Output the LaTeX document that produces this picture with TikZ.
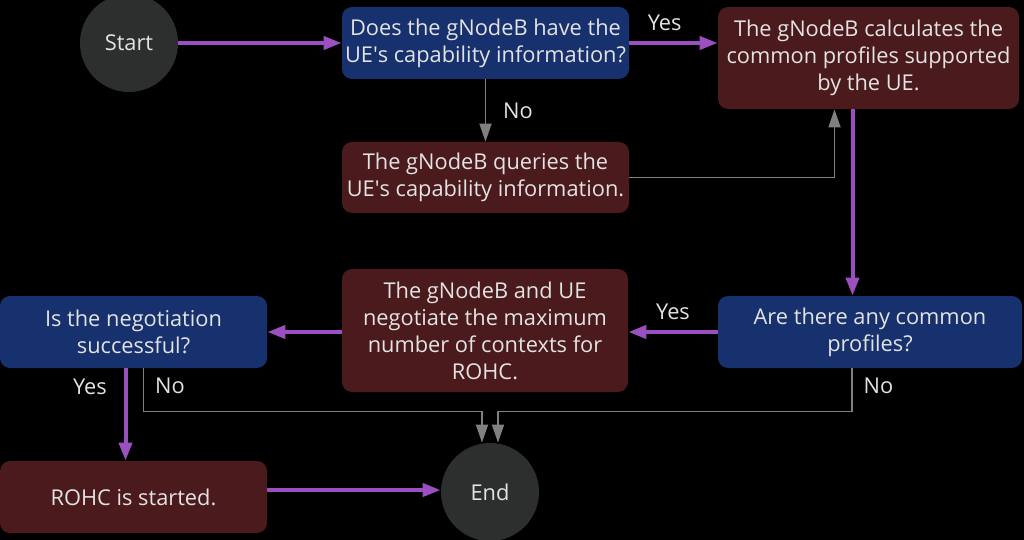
\documentclass[tikz,border=0pt]{standalone}
\usepackage{fontspec}
\setmainfont{Open Sans}
\usetikzlibrary{arrows.meta,calc,positioning}
\definecolor{qblue}{HTML}{17306E}
\definecolor{actred}{HTML}{4A1A1C}
\definecolor{termgrey}{HTML}{2D2F2E}
\definecolor{flowpurple}{HTML}{9B4FC0}
\definecolor{nogrey}{HTML}{808080}
\definecolor{labelgrey}{HTML}{E3E3E3}

\begin{document}
\begin{tikzpicture}[x=0.5pt,y=-0.5pt,font=\fontsize{10.9}{13.5}\selectfont]
\clip (0,0) rectangle (1024,540);
\fill[black] (0,0) rectangle (1024,540);

    \tikzstyle{decision}=[fill=qblue, rounded corners=5pt, text=labelgrey, align=center, minimum height=36pt, inner sep=0pt];
    \tikzstyle{action}=[fill=actred, rounded corners=5pt, text=labelgrey, align=center, inner sep=0pt];
    \tikzstyle{terminal}=[circle, fill=termgrey, text=labelgrey, minimum size=49pt, inner sep=0pt];
    \tikzstyle{yesline}=[draw=flowpurple, line width=2pt, -{Triangle[length=9pt,width=6.5pt]}];
    \tikzstyle{noline}=[draw=nogrey, line width=0.9pt, -{Triangle[length=9pt,width=6pt]}];
    \tikzstyle{branch}=[text=labelgrey];

% top row
\node[terminal] (start) at (129,43) {Start};
\node[decision, minimum width=143.5pt] (hascap) at (485.5,43) {Does the gNodeB have the\\UE\textquotesingle s capability information?};
\node[action, minimum width=150.5pt, minimum height=51pt] (calcprof) at (868.5,58) {The gNodeB calculates the\\common profiles supported\\by the UE.};
\node[action, minimum width=143.5pt, minimum height=35.5pt] (querycap) at (485.5,177.5) {The gNodeB queries the\\UE\textquotesingle s capability information.};

% middle row
\node[decision, minimum width=152pt] (anycommon) at (870,332) {Are there any common\\profiles?};
\node[action, minimum width=143pt, minimum height=61.5pt] (negotiate) at (485,330.5) {The gNodeB and UE\\negotiate the maximum\\number of contexts for\\ROHC.};
\node[decision, minimum width=133.5pt] (success) at (133.5,332) {Is the negotiation\\successful?};

% bottom row
\node[action, minimum width=133.5pt, minimum height=36pt] (rohcstart) at (133.5,497) {ROHC is started.};
\node[terminal] (end) at (490,492) {End};

% connectors
\draw[yesline] (start) -- (hascap);
\draw[yesline] (hascap.east) -- (hascap.east -| calcprof.west) node[branch, pos=0.4, above=2pt] {Yes};
\draw[noline] (hascap) -- (querycap) node[branch, midway, right=5pt] {No};
\draw[noline] (querycap.east) -| ([xshift=-17pt]calcprof.south);
\draw[yesline] ([xshift=-8pt]calcprof.south) -- ([xshift=-8pt]calcprof.south |- anycommon.north);
\draw[yesline] (anycommon.west) -- (anycommon.west -| negotiate.east) node[branch, midway, above=2pt] {Yes};
\draw[yesline] (negotiate.west |- success.east) -- (success.east);
\draw[yesline] ([xshift=-4pt]success.south) -- ([xshift=-4pt]rohcstart.north) node[branch, pos=0.2, left=5pt] {Yes};
\draw[noline] ([xshift=5pt]success.south) -- ++(0,-21.5pt) node[branch, pos=0.4, right=2pt] {No} -| ([xshift=-4pt]end.north);
\draw[noline] ([xshift=-9pt]anycommon.south) -- ++(0,-21.5pt) node[branch, pos=0.4, right=2pt] {No} -| ([xshift=4pt]end.north);
\draw[yesline] ([yshift=1pt]rohcstart.east |- end.west) -- ([yshift=1pt]end.west);
\end{tikzpicture}
\end{document}
